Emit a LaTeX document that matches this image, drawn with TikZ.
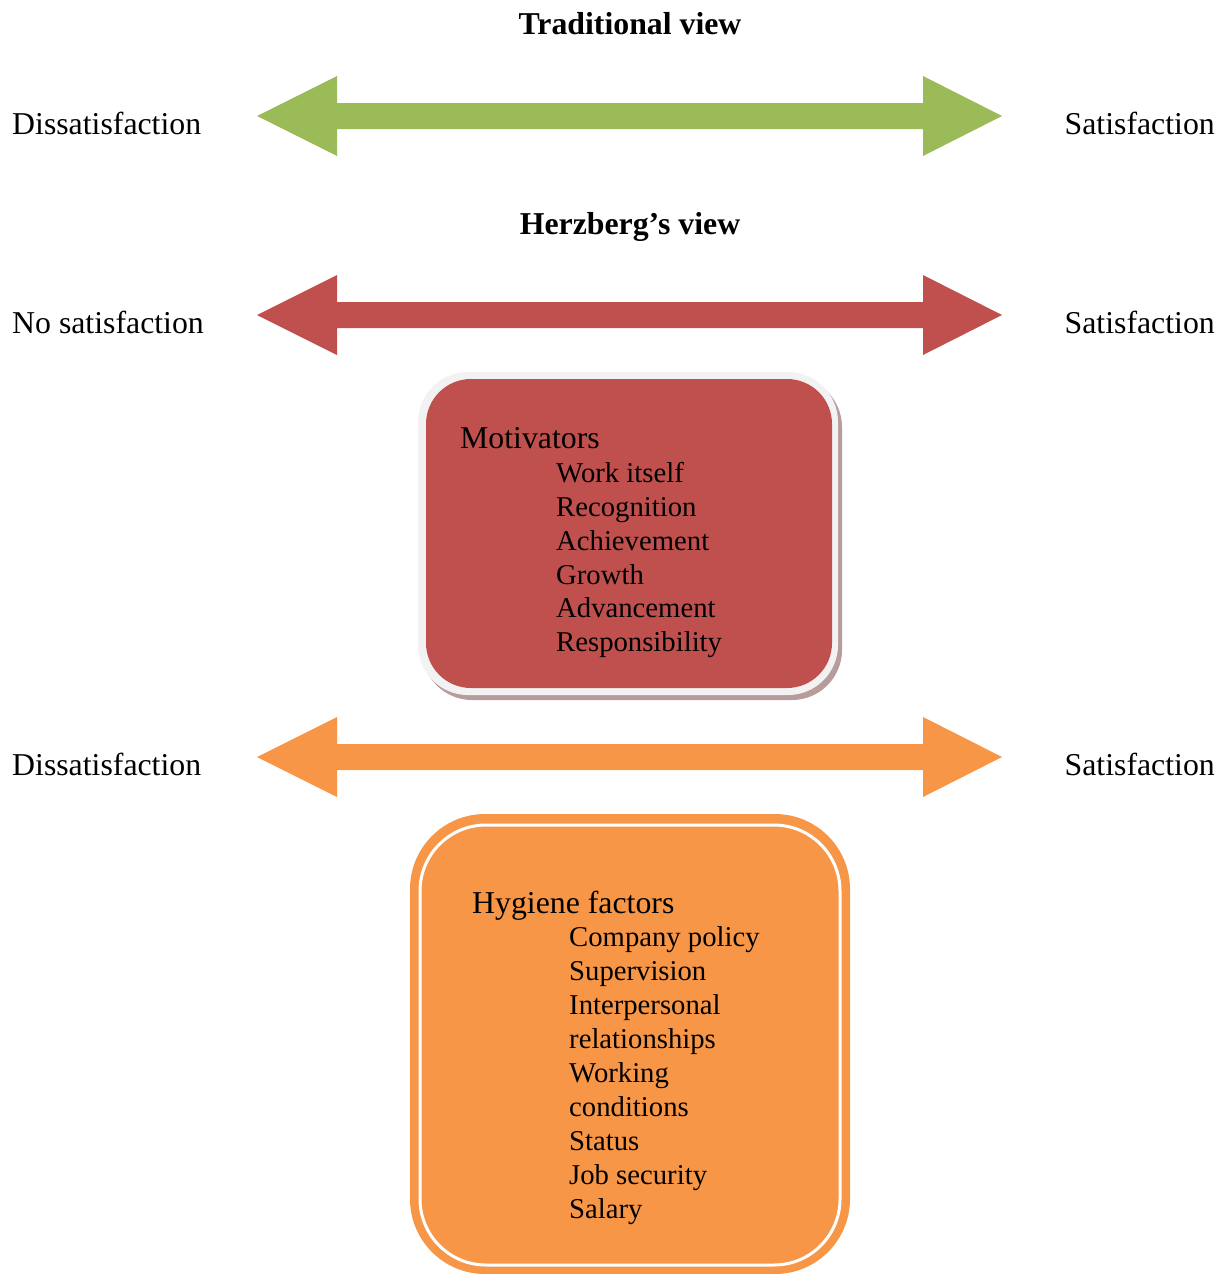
\documentclass[tikz,border=0pt]{standalone}
\usepackage{fontspec}
\setmainfont{Liberation Serif}
\begin{document}
\begin{tikzpicture}[x=1pt,y=-1pt,
  lbl/.style={anchor=base west,inner sep=0pt,font=\fontsize{31.8}{34}\selectfont},
  lblr/.style={anchor=base east,inner sep=0pt,font=\fontsize{31.8}{34}\selectfont},
  ttl/.style={anchor=base,inner sep=0pt,font=\fontsize{31.8}{34}\selectfont\bfseries},
  head/.style={anchor=base west,inner sep=0pt,font=\fontsize{31.8}{34}\selectfont},
  item/.style={anchor=base west,inner sep=0pt,font=\fontsize{28.7}{34}\selectfont}]
\definecolor{cgreen}{HTML}{9BBB59}
\definecolor{cred}{HTML}{C0504D}
\definecolor{corange}{HTML}{F79646}
\definecolor{cshadow}{HTML}{B89C9C}
\definecolor{crim}{HTML}{F2F2F2}
\useasboundingbox (0,0) rectangle (1227,1274);

% double-headed block arrow centred on height #2
\newcommand{\dblarrow}[2]{%
  \fill[#1] (257,#2) -- (337,#2-40) -- (337,#2-13) -- (923,#2-13) -- (923,#2-40)
    -- (1002,#2) -- (923,#2+40) -- (923,#2+13) -- (337,#2+13) -- (337,#2+40) -- cycle;}

% Traditional view
\node[ttl] (t1) at (630,34) {Traditional view};
\dblarrow{cgreen}{116}
\node[lbl] (l1) at (12,134) {Dissatisfaction};
\node[lblr] (r1) at (1215,134) {Satisfaction};

% Herzberg's view
\node[ttl] (t2) at (630,234) {Herzberg’s view};
\dblarrow{cred}{315}
\node[lbl] (l2) at (12,333) {No satisfaction};
\node[lblr] (r2) at (1215,333) {Satisfaction};

% Motivators box
\fill[cshadow, rounded corners=50pt] (422,377) rectangle (842,700);
\fill[crim, rounded corners=50pt] (418,372) rectangle (838,695);
\fill[cred, rounded corners=45pt] (426,379) rectangle (832,688);
\node[head] (mot) at (460,448) {Motivators};
\node[item] (m1) at (556,482.7) {Work itself};
\node[item] (m2) at (556,516.4) {Recognition};
\node[item] (m3) at (556,550.2) {Achievement};
\node[item] (m4) at (556,584) {Growth};
\node[item] (m5) at (556,617.8) {Advancement};
\node[item] (m6) at (556,651.6) {Responsibility};

% Dissatisfaction / satisfaction scale
\dblarrow{corange}{757}
\node[lbl] (l3) at (12,775) {Dissatisfaction};
\node[lblr] (r3) at (1215,775) {Satisfaction};

% Hygiene factors box
\fill[corange, rounded corners=75pt] (410,814) rectangle (850,1274);
\draw[white, line width=3pt, rounded corners=66pt] (420,825) rectangle (840,1265);
\node[head] (hyg) at (472,913) {Hygiene factors};
\node[item] (h1) at (569,946.9) {Company policy};
\node[item] (h2) at (569,980.8) {Supervision};
\node[item] (h3) at (569,1014.7) {Interpersonal};
\node[item] (h4) at (569,1048.6) {relationships};
\node[item] (h5) at (569,1082.5) {Working};
\node[item] (h6) at (569,1116.4) {conditions};
\node[item] (h7) at (569,1150.3) {Status};
\node[item] (h8) at (569,1184.2) {Job security};
\node[item] (h9) at (569,1218.1) {Salary};
\end{tikzpicture}
\end{document}
